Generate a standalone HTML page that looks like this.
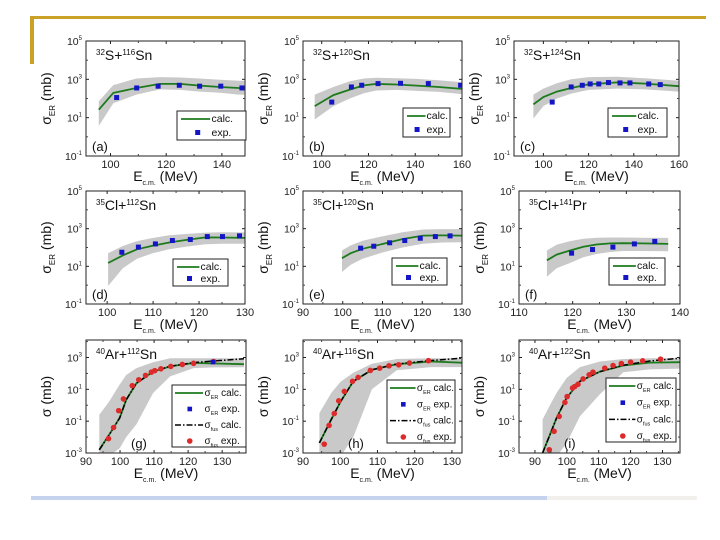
<!DOCTYPE html>
<html><head><meta charset="utf-8"><style>
html,body{margin:0;padding:0;background:#fff;}
svg{display:block;font-family:"Liberation Sans",Arial,sans-serif;}
</style></head><body>
<svg id="fig" width="720" height="540" viewBox="0 0 720 540" xmlns="http://www.w3.org/2000/svg">
<rect x="0" y="0" width="720" height="540" fill="#fff"/>
<rect x="30" y="16" width="676" height="3" fill="#c9a227"/>
<rect x="30" y="16" width="4" height="48" fill="#c9a227"/>
<rect x="31" y="496" width="516" height="4" fill="#c5d3ee"/>
<rect x="547" y="496" width="150" height="4" fill="#f1f0ec"/>
</svg>
<script>
// ---- data (mb) ----
const aE=[95.8,101,109.3,117.7,125,132,139.4,146,148];
const aCalc=[26,195,355,575,575,470,400,355,350];
const aHi=[72,500,1100,1300,1250,1100,950,850,850];
const aLo=[3.7,56,160,300,280,230,200,160,160];
const aExpE=[102.2,109.4,117.1,124.7,132,139.6,147.2];
const aExpV=[112,355,440,490,440,440,355];

const bE=[97,105,112,118,123.4,132,140.6,150,160];
const bCalc=[40,150,290,480,575,540,470,400,316];
const bHi=[160,400,800,1100,1200,1150,1050,900,700];
const bLo=[8,40,100,190,260,280,250,220,170];
const bExpE=[104.3,112.7,117.1,124.1,133.7,145.6,159.4];
const bExpV=[65,400,490,600,620,600,490];

const cE=[95.6,100,106,112.3,120,132.7,145,160];
const cCalc=[49,120,230,355,550,690,600,440];
const cHi=[160,330,620,1000,1300,1350,1150,850];
const cLo=[9,40,100,180,280,330,300,230];
const cExpE=[103.9,112.3,117.2,120.7,124.5,128.8,133.9,138.3,146.6,151.7];
const cExpV=[65,400,490,575,575,680,650,650,575,530];

const dE=[100.2,103.4,106.5,109.9,113.5,117.1,121.4,125,130];
const dCalc=[15,38,80,125,185,250,345,340,325];
const dHi=[50,120,220,320,450,520,620,640,630];
const dLo=[0.9,8,25,50,80,110,150,160,160];
const dExpE=[103.2,106.8,110.5,114.2,118.1,121.8,125.1,128.8];
const dExpV=[56,105,155,235,265,380,380,415];

const eE=[99.8,102,105,110.1,115,120.2,125,130];
const eCalc=[27,50,85,155,280,430,440,430];
const eHi=[69,130,230,400,650,900,950,950];
const eLo=[5,12,25,55,100,160,185,190];
const eExpE=[104.5,107.8,111.8,115.6,119.5,123.3,127];
const eExpV=[92,117,178,235,310,380,415];

const fE=[115.2,117,119.5,122,124.4,127,129.4,133,137.8];
const fCalc=[21,42,69,110,145,165,170,165,155];
const fHi=[69,140,220,290,330,340,340,330,325];
const fLo=[2.8,8,15,30,45,58,65,65,63];
const fExpE=[119.8,123.7,127.5,131.5,135.3];
const fExpV=[50,78,105,155,210];

const gE=[93.9,96.6,99.9,101.8,104.8,109.7,114.7,121.6,128,136.4];
const gER=[0.0016,0.012,0.16,2.2,24,130,275,450,420,380];
const gFus=[0.0016,0.012,0.16,2.2,24,130,280,480,620,830];
const gHi=[0.25,1.5,20,80,215,500,900,900,900,900];
const gLo=[0.0005,0.0006,0.002,0.01,0.063,5.9,65,215,240,245];
const gExpE=[96.6,98.1,99.6,101,103.6,105.5,107.5,109.2,110.2,112,114.9,118.3,121.6,127.5];
const gExpV=[0.008,0.04,0.46,2.5,17,40,75,120,150,195,275,365,430,560];
const gERExpE=[127.3];
const gERExpV=[520];

const hE=[94.4,97.6,100.1,103.5,108.5,115.2,124.5,132.7];
const hER=[0.0043,0.13,1.7,32,170,380,560,470];
const hFus=[0.0043,0.13,1.7,32,170,390,650,900];
const hHi=[0.32,6,30,110,400,800,900,900];
const hLo=[0.0005,0.0005,0.0006,0.01,10,160,250,250];
const hExpE=[95.7,97,98.4,99.6,101.1,103.3,104.8,108.1,110.6,113.1,115.7,118.6,123.7];
const hExpV=[0.0036,0.054,0.3,1.9,7.4,32,56,155,215,300,350,450,630];

const iE=[92.4,94.7,96.8,99.9,104.1,110.4,117.7,126,135.5];
const iER=[0.001,0.014,0.16,2.8,32,130,315,480,510];
const iFus=[0.001,0.014,0.16,2.8,32,130,330,600,900];
const iHi=[0.13,1,6,51,250,560,800,900,900];
const iLo=[0.0005,0.0005,0.0006,0.004,0.2,5,120,180,200];
const iExpE=[94.5,96,97.6,99.4,100.1,101.8,102.5,103.5,105.1,107,108.2,111.9,114.5,117.1,120,123.8,129.4];
const iExpV=[0.0016,0.023,0.2,1.5,3.5,12,15,21,45,82,120,215,315,420,510,620,790];

const panels=[
 {id:'a',x0:86,x1:245,y0:41,y1:156,xr:[91.2,148.3],yr:[-1,5],yt:[5,3,1,-1],xt:[100,120,140],minor:[110,130],p:'32',pe:'S',t:'116',te:'Sn',ylab:'ER',E:aE,calc:aCalc,hi:aHi,lo:aLo,xe:aExpE,ye:aExpV,leg:[177,111,69,29]},
 {id:'b',x0:303,x1:462,y0:41,y1:156,xr:[92,160],yr:[-1,5],yt:[5,3,1,-1],xt:[100,120,140,160],minor:[110,130,150],p:'32',pe:'S',t:'120',te:'Sn',ylab:'ER',E:bE,calc:bCalc,hi:bHi,lo:bLo,xe:bExpE,ye:bExpV,leg:[403,108,47,29]},
 {id:'c',x0:514,x1:679,y0:41,y1:156,xr:[87,160],yr:[-1,5],yt:[5,3,1,-1],xt:[100,120,140,160],minor:[110,130,150],p:'32',pe:'S',t:'124',te:'Sn',ylab:'ER',E:cE,calc:cCalc,hi:cHi,lo:cLo,xe:cExpE,ye:cExpV,leg:[608,108,59,29]},
 {id:'d',x0:86,x1:245,y0:191,y1:304,xr:[95.4,130],yr:[-1,5],yt:[5,3,1,-1],xt:[100,110,120,130],minor:[105,115,125],p:'35',pe:'Cl',t:'112',te:'Sn',ylab:'ER',E:dE,calc:dCalc,hi:dHi,lo:dLo,xe:dExpE,ye:dExpV,leg:[173,259,55,27]},
 {id:'e',x0:303,x1:462,y0:191,y1:304,xr:[90,130],yr:[-1,5],yt:[5,3,1,-1],xt:[90,100,110,120,130],minor:[95,105,115,125],p:'35',pe:'Cl',t:'120',te:'Sn',ylab:'ER',E:eE,calc:eCalc,hi:eHi,lo:eLo,xe:eExpE,ye:eExpV,leg:[392,258,55,27]},
 {id:'f',x0:519,x1:680,y0:191,y1:304,xr:[110,140],yr:[-1,5],yt:[5,3,1,-1],xt:[110,120,130,140],minor:[115,125,135],p:'35',pe:'Cl',t:'141',te:'Pr',ylab:'ER',E:fE,calc:fCalc,hi:fHi,lo:fLo,xe:fExpE,ye:fExpV,leg:[609,258,56,27]},
 {id:'g',x0:86,x1:246,y0:340,y1:453,xr:[90,137],yr:[-3,4.1],yt:[3,1,-1,-3],xt:[90,100,110,120,130],minor:[95,105,115,125,135],p:'40',pe:'Ar',t:'112',te:'Sn',ylab:'',E:gE,calc:gER,fus:gFus,hi:gHi,lo:gLo,xe:gExpE,ye:gExpV,bxe:gERExpE,bye:gERExpV,leg:[172,385,74,62]},
 {id:'h',x0:303,x1:462,y0:340,y1:453,xr:[90,132.7],yr:[-3,4.1],yt:[3,1,-1,-3],xt:[90,100,110,120,130],minor:[95,105,115,125],p:'40',pe:'Ar',t:'116',te:'Sn',ylab:'',E:hE,calc:hER,fus:hFus,hi:hHi,lo:hLo,xe:hExpE,ye:hExpV,leg:[387,380,68,63]},
 {id:'i',x0:519,x1:680,y0:340,y1:453,xr:[85,135.5],yr:[-3,4.1],yt:[3,1,-1,-3],xt:[90,100,110,120,130],minor:[95,105,115,125,135],p:'40',pe:'Ar',t:'122',te:'Sn',ylab:'',E:iE,calc:iER,fus:iFus,hi:iHi,lo:iLo,xe:iExpE,ye:iExpV,leg:[606,378,70,64]}
];
const NS='http://www.w3.org/2000/svg';
const svg=document.getElementById('fig');
function mk(tag,attrs,parent){const e=document.createElementNS(NS,tag);for(const k in attrs)e.setAttribute(k,attrs[k]);(parent||svg).appendChild(e);return e;}
const GREEN='#1d7a1d',BLUE='#1515c8',RED='#dd2a2a',BAND='#c9c9c9';

panels.forEach(P=>{
 const g=mk('g',{});
 
 
 const X=v=>P.x0+(v-P.xr[0])/(P.xr[1]-P.xr[0])*(P.x1-P.x0);
 const Y=v=>P.y1-(Math.log10(v)-P.yr[0])/(P.yr[1]-P.yr[0])*(P.y1-P.y0);
 const YL=l=>P.y1-(l-P.yr[0])/(P.yr[1]-P.yr[0])*(P.y1-P.y0);
 const cp=mk('clipPath',{id:'clip'+P.id},g);
 mk('rect',{x:P.x0,y:P.y0,width:P.x1-P.x0,height:P.y1-P.y0},cp);
 const body=mk('g',{'clip-path':'url(#clip'+P.id+')'},g);
 let d='M'+P.E.map((e,k)=>X(e).toFixed(1)+','+Y(P.hi[k]).toFixed(1)).join('L');
 for(let k=P.E.length-1;k>=0;k--)d+='L'+X(P.E[k]).toFixed(1)+','+Y(P.lo[k]).toFixed(1);
 const band=mk('path',{d:d+'Z',fill:BAND,stroke:'none'},body);
 
 
 const ln=mk('path',{d:'M'+P.E.map((e,k)=>X(e).toFixed(1)+','+Y(P.calc[k]).toFixed(1)).join('L'),fill:'none',stroke:GREEN,'stroke-width':1.8},body);
 
 
 if(P.fus){
  const fl=mk('path',{d:'M'+P.E.map((e,k)=>X(e).toFixed(1)+','+Y(P.fus[k]).toFixed(1)).join('L'),fill:'none',stroke:'#000','stroke-width':1.5,'stroke-dasharray':'6,2,1.5,2'},body);
  
  
 }
 P.xe.forEach((e,k)=>{
  let m;
  if(P.fus){m=mk('circle',{cx:X(e),cy:Y(P.ye[k]),r:2.8,fill:RED},body);}
  else{m=mk('rect',{x:X(e)-2.5,y:Y(P.ye[k])-2.5,width:5,height:5,fill:BLUE},body);}
  
  
 });
 if(P.bxe)P.bxe.forEach((e,k)=>{
  const m=mk('rect',{x:X(e)-2.3,y:Y(P.bye[k])-2.3,width:4.6,height:4.6,fill:BLUE},body);
  
  
 });
 const fr=mk('rect',{x:P.x0,y:P.y0,width:P.x1-P.x0,height:P.y1-P.y0,fill:'none',stroke:'#222','stroke-width':1},g);
 
 
 P.xt.forEach(v=>{
  const x=X(v);
  mk('line',{x1:x,x2:x,y1:P.y1,y2:P.y1-3,stroke:'#222'},g);
  mk('line',{x1:x,x2:x,y1:P.y0,y2:P.y0+3,stroke:'#222'},g);
  const t=mk('text',{x:x,y:P.y1+12,'font-size':11,'text-anchor':'middle',fill:'#222'},g);
  t.textContent=v;
  
  
 });
 P.minor.forEach(v=>{const x=X(v);mk('line',{x1:x,x2:x,y1:P.y1,y2:P.y1-2,stroke:'#444'},g);mk('line',{x1:x,x2:x,y1:P.y0,y2:P.y0+2,stroke:'#444'},g);});
 P.yt.forEach(l=>{
  const y=YL(l);
  mk('line',{x1:P.x0,x2:P.x0+3,y1:y,y2:y,stroke:'#222'},g);
  mk('line',{x1:P.x1,x2:P.x1-3,y1:y,y2:y,stroke:'#222'},g);
  const t=mk('text',{x:P.x0-4,y:y+4,'font-size':10.5,'text-anchor':'end',fill:'#222'},g);
  
  
  t.appendChild(document.createTextNode('10'));
  const s=mk('tspan',{dy:-5,'font-size':6},t);s.textContent=l;
 });
 for(let l=Math.ceil(P.yr[0]);l<P.yr[1];l++){if(P.yt.indexOf(l)<0){const y=YL(l);mk('line',{x1:P.x0,x2:P.x0+2,y1:y,y2:y,stroke:'#444'},g);mk('line',{x1:P.x1,x2:P.x1-2,y1:y,y2:y,stroke:'#444'},g);}}
 const tt=mk('text',{x:P.x0+10,y:P.y0+19,'font-size':14,fill:'#111'},g);
 
 
 let s=mk('tspan',{'font-size':8,dy:-5},tt);s.textContent=P.p;
 s=mk('tspan',{dy:5},tt);s.textContent=P.pe+'+';
 s=mk('tspan',{'font-size':8,dy:-5},tt);s.textContent=P.t;
 s=mk('tspan',{dy:5},tt);s.textContent=P.te;
 const pl=mk('text',{x:P.x0+(P.fus?45:6),y:P.y1-5,'font-size':13,fill:'#111'},g);
 pl.textContent='('+P.id+')';
 
 
 const xt=mk('text',{x:(P.x0+P.x1)/2,y:P.y1+25,'font-size':14,'text-anchor':'middle',fill:'#111'},g);
 
 
 xt.appendChild(document.createTextNode('E'));
 s=mk('tspan',{'font-size':7,dy:4},xt);s.textContent='c.m.';
 s=mk('tspan',{dy:-4},xt);s.textContent=' (MeV)';
 const cy=(P.y0+P.y1)/2, cx=P.x0-35;
 const yt=mk('text',{x:cx,y:cy,'font-size':14,'text-anchor':'middle',fill:'#111',transform:'rotate(-90 '+cx+' '+cy+')'},g);
 
 
 yt.appendChild(document.createTextNode('σ'));
 if(P.ylab){s=mk('tspan',{'font-size':8,dy:4},yt);s.textContent=P.ylab;s=mk('tspan',{dy:-4},yt);s.textContent=' (mb)';}
 else{s=mk('tspan',{},yt);s.textContent=' (mb)';}
 const [lx,ly,lw,lh]=P.leg;
 const lg=mk('g',{},g);
 
 
 mk('rect',{x:lx,y:ly,width:lw,height:lh,fill:'#fff',stroke:'#222','stroke-width':1},lg);
 if(!P.fus){
  mk('line',{x1:lx+4,x2:lx+lw*0.48,y1:ly+8,y2:ly+8,stroke:GREEN,'stroke-width':1.8},lg);
  let t=mk('text',{x:lx+lw*0.5,y:ly+11,'font-size':10.5,fill:'#111'},lg);t.textContent='calc.';
  mk('rect',{x:lx+lw*0.3-2.5,y:ly+lh-10,width:5,height:5,fill:BLUE},lg);
  t=mk('text',{x:lx+lw*0.5,y:ly+lh-4,'font-size':10.5,fill:'#111'},lg);t.textContent='exp.';
 }else{
  const rows=[['ER','calc.'],['ER','exp.'],['fus','calc.'],['fus','exp.']];
  rows.forEach((r,k)=>{
   const yy=ly+8+k*(lh-14)/3;
   if(k==0)mk('line',{x1:lx+3,x2:lx+lw*0.42,y1:yy,y2:yy,stroke:GREEN,'stroke-width':1.8},lg);
   if(k==1)mk('rect',{x:lx+lw*0.24-2.3,y:yy-2.3,width:4.6,height:4.6,fill:BLUE},lg);
   if(k==2)mk('line',{x1:lx+3,x2:lx+lw*0.42,y1:yy,y2:yy,stroke:'#000','stroke-width':1.5,'stroke-dasharray':'6,2,1.5,2'},lg);
   if(k==3)mk('circle',{cx:lx+lw*0.24,cy:yy,r:2.8,fill:RED},lg);
   const t=mk('text',{x:lx+lw*0.44,y:yy+3,'font-size':10,fill:'#111'},lg);
   t.appendChild(document.createTextNode('σ'));
   let q=mk('tspan',{'font-size':5.5,dy:3},t);q.textContent=r[0];
   q=mk('tspan',{dy:-3},t);q.textContent=' '+r[1];
  });
 }
});
</script>
</body></html>
